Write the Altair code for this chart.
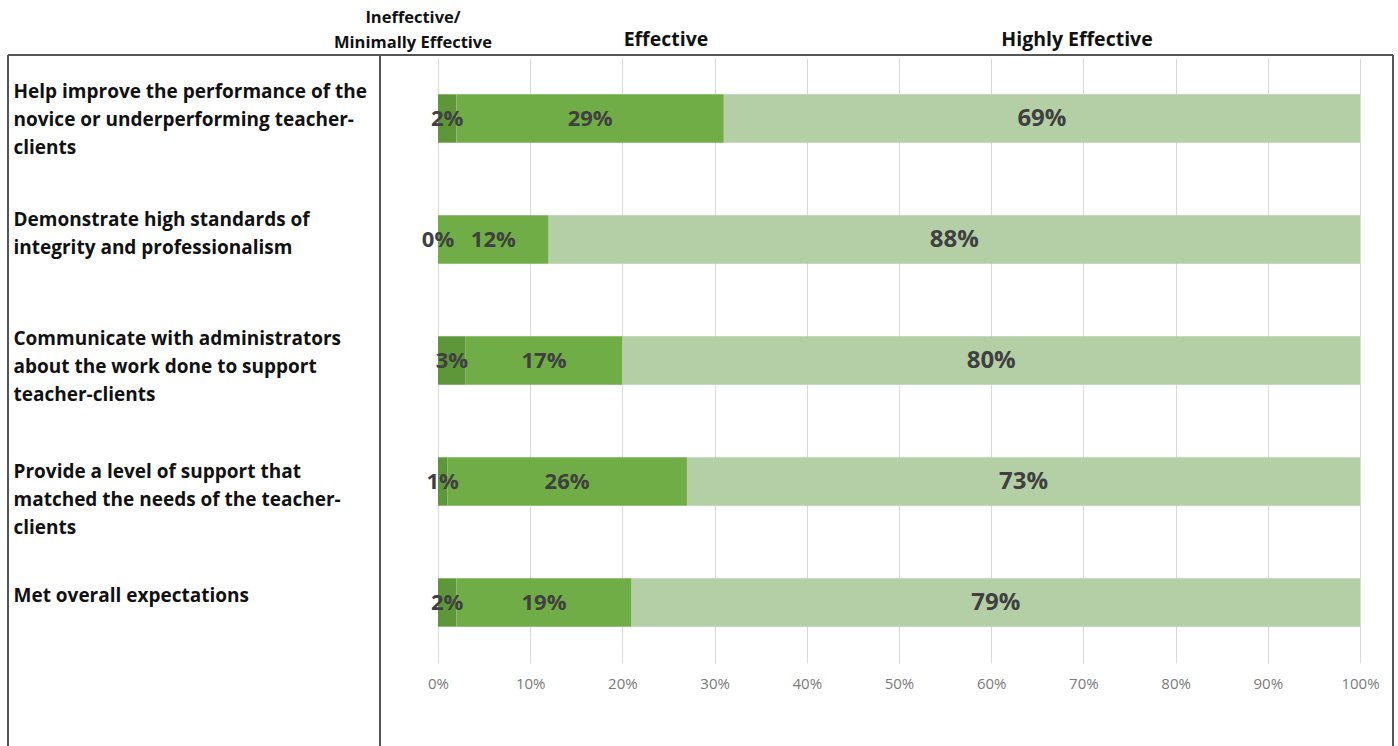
import altair as alt
import pandas as pd

rows = [
    "Help improve the performance of the|novice or underperforming teacher-|clients",
    "Demonstrate high standards of|integrity and professionalism",
    "Communicate with administrators|about the work done to support|teacher-clients",
    "Provide a level of support that|matched the needs of the teacher-|clients",
    "Met overall expectations",
]
ineffective = [2, 0, 3, 1, 2]
effective = [29, 12, 17, 26, 19]
highly = [69, 88, 80, 73, 79]
categories = ["Ineffective/Minimally Effective", "Effective", "Highly Effective"]
colors = ["#5e9739", "#70ad47", "#b4cfa6"]
label_shift = [-27, -20, -22, -10, -7]

recs = []
for i, r in enumerate(rows):
    start = 0
    for k, (cat, v) in enumerate(zip(categories, [ineffective[i], effective[i], highly[i]])):
        recs.append({"row": r, "cat": cat, "order": k, "start": start, "end": start + v,
                     "mid": start + v / 2, "val": v, "label": f"{v}%",
                     "big": "big" if k == 2 else "small"})
        start += v
df = pd.DataFrame(recs)

FONT = "Open Sans"

offset_cond = {
    "condition": [{"test": f"datum.value == '{r}'", "value": s} for r, s in zip(rows, label_shift)],
    "value": 0,
}

yenc = alt.Y("row:N", sort=rows, scale=alt.Scale(paddingInner=0.6, paddingOuter=0.3),
             axis=alt.Axis(title=None, labelExpr="split(datum.label, '|')", labelAlign="left",
                           labelPadding=425, labelLimit=420, ticks=False, domain=False,
                           labelFontSize=19, labelFont=FONT, labelFontWeight="bold",
                           labelColor="#111111", labelLineHeight=28, labelBaseline="middle",
                           labelOffset=offset_cond, grid=False))

xaxis = alt.Axis(title=None, values=list(range(0, 101, 10)),
                 labelExpr="datum.value + '%'", grid=True, gridColor="#d9d9d9",
                 ticks=False, domain=False, labelFontSize=15, labelFont=FONT,
                 labelColor="#7a7a7a", labelPadding=13, labelFlush=False)
xscale = alt.Scale(domain=[0, 100])

bars = alt.Chart(df).mark_bar().encode(
    x=alt.X("start:Q", scale=xscale, axis=xaxis),
    x2="end:Q",
    y=yenc,
    color=alt.Color("cat:N", scale=alt.Scale(domain=categories, range=colors), legend=None),
)

small_txt = alt.Chart(df[df["big"] == "small"]).mark_text(
    font=FONT, fontWeight="bold", fontSize=22, color="#404040"
).encode(x=alt.X("mid:Q", scale=xscale, axis=xaxis), y=yenc, text="label:N")

big_txt = alt.Chart(df[df["big"] == "big"]).mark_text(
    font=FONT, fontWeight="bold", fontSize=24, color="#404040"
).encode(x=alt.X("mid:Q", scale=xscale, axis=xaxis), y=yenc, text="label:N")

one = pd.DataFrame({"a": [0]})

def header(txt, px, py, size):
    return alt.Chart(one).mark_text(
        text=txt, font=FONT, fontWeight="bold", fontSize=size, color="#111111",
        align="center", baseline="middle"
    ).encode(x=alt.value(px), y=alt.value(py))

h_a = header("Ineffective/", -25, -40, 16.5)
h_b = header("Minimally Effective", -25, -15, 16.5)
h_c = header("Effective", 228, -18, 19.5)
h_d = header("Highly Effective", 639, -18, 19.5)

def rule(x1, x2, y1, y2):
    return alt.Chart(one).mark_rule(color="#555555", strokeWidth=2).encode(
        x=alt.value(x1), x2=alt.value(x2), y=alt.value(y1), y2=alt.value(y2))

top = rule(-430, 955, -3, -3)
left = rule(-430, -430, -3, 690)
mid = rule(-58, -58, -3, 690)
right = rule(955, 955, -3, 690)

chart = alt.layer(bars, small_txt, big_txt, h_a, h_b, h_c, h_d, top, left, mid, right).properties(
    width=922, height=605,
    autosize=alt.AutoSizeParams(type="none"),
    padding={"left": 438, "top": 58, "right": 38, "bottom": 83},
    background="white",
).configure_view(stroke=None)

chart.save("out.html", embed_options={"renderer": "svg", "actions": False})
